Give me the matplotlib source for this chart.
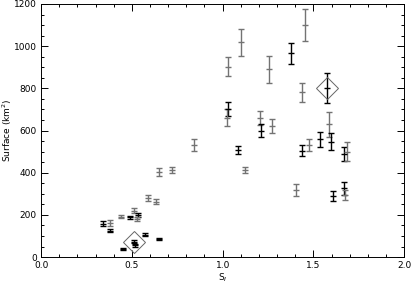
import matplotlib

matplotlib.use("Agg")
import matplotlib.pyplot as plt
from matplotlib.ticker import MultipleLocator

# S_I, surface (km^2), error, colour group (0 = black, 1 = grey)
s_i = [0.34, 0.38, 0.38, 0.44, 0.45, 0.49, 0.51, 0.535, 0.53, 0.51, 0.52,
       0.575, 0.65, 0.59, 0.635, 0.648, 0.72, 0.84, 1.03, 1.103, 1.256,
       1.376, 1.455, 1.435, 1.573, 1.031, 1.022, 1.204, 1.212, 1.272, 1.085,
       1.123, 1.436, 1.475, 1.536, 1.584, 1.597, 1.667, 1.685, 1.606, 1.667,
       1.676, 1.403]
surface = [158, 162, 125, 192, 37, 189, 220, 198, 180, 73, 55,
           106, 85, 280, 262, 402, 413, 532, 903, 1018, 890,
           966, 1100, 781, 800, 700, 660, 658, 600, 621, 507,
           413, 504, 532, 558, 629, 547, 489, 500, 289, 326,
           294, 318]
surface_err = [11, 13, 6, 8, 4, 8, 13, 10, 8, 8, 6,
               6, 6, 12, 12, 18, 16, 28, 44, 63, 65,
               50, 77, 44, 71, 33, 40, 34, 30, 32, 20,
               15, 27, 30, 36, 58, 41, 35, 45, 24, 30,
               24, 27]
group = [0, 1, 0, 1, 0, 0, 1, 0, 1, 0, 0,
         0, 0, 1, 1, 1, 1, 1, 1, 1, 1,
         0, 1, 1, 0, 0, 1, 1, 0, 1, 0,
         1, 0, 1, 0, 1, 0, 0, 1, 0, 0,
         1, 1]

# highlighted events (open diamonds)
hl_s_i = [0.51, 1.573]
hl_surface = [73, 800]

colours = ["black", "0.45"]

fig = plt.figure(figsize=(4.15, 2.85), dpi=100)
ax = fig.add_axes([0.099, 0.098, 0.875, 0.888])

for x, y, e, g in zip(s_i, surface, surface_err, group):
    ax.errorbar(x, y, yerr=e, fmt="_", color=colours[g], ms=5, mew=1.0,
                elinewidth=1.0, capsize=2.2, capthick=1.0)

ax.plot(hl_s_i, hl_surface, "D", mfc="none", mec="0.4", ms=11, mew=0.7)

ax.set_xlim(0, 2.0)
ax.set_ylim(0, 1200)
ax.xaxis.set_major_locator(MultipleLocator(0.5))
ax.xaxis.set_minor_locator(MultipleLocator(0.1))
ax.yaxis.set_major_locator(MultipleLocator(200))
ax.yaxis.set_minor_locator(MultipleLocator(50))
ax.xaxis.set_major_formatter(lambda v, p: f"{v:.1f}")
ax.tick_params(which="both", direction="in", top=True, right=True,
               labelsize=6.5, width=0.7, pad=3)
ax.tick_params(which="major", length=5)
ax.tick_params(which="minor", length=2.5)
for sp in ax.spines.values():
    sp.set_linewidth(0.7)

ax.set_xlabel("S$_I$", fontsize=6.5, labelpad=1)
ax.set_ylabel("Surface (km$^2$)", fontsize=6.5)
ax.yaxis.set_label_coords(-0.075, 0.5)

fig.savefig("out.png", dpi=100)
